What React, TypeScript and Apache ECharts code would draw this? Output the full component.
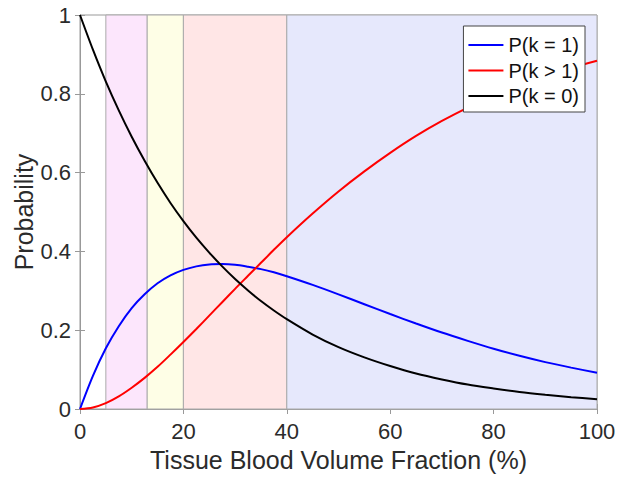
import React, { useEffect, useRef } from "react";
import * as echarts from "echarts";

const xValues = [0, 2.5, 5, 7.5, 10, 12.5, 15, 17.5, 20, 22.5, 25, 27.5, 30, 32.5, 35, 37.5, 40, 45, 50, 55, 60, 65, 70, 75, 80, 85, 90, 95, 100];
const pOne = [0, 0.084, 0.154, 0.210, 0.256, 0.291, 0.319, 0.339, 0.353, 0.362, 0.367, 0.368, 0.366, 0.361, 0.355, 0.347, 0.337, 0.315, 0.291, 0.266, 0.241, 0.217, 0.194, 0.173, 0.153, 0.135, 0.119, 0.105, 0.092];
const pMore = [0, 0.004, 0.015, 0.032, 0.054, 0.079, 0.107, 0.138, 0.170, 0.203, 0.237, 0.271, 0.305, 0.338, 0.371, 0.404, 0.436, 0.496, 0.552, 0.603, 0.650, 0.693, 0.731, 0.765, 0.795, 0.822, 0.845, 0.866, 0.884];
const pZero = [1, 0.912, 0.831, 0.758, 0.691, 0.630, 0.574, 0.523, 0.477, 0.435, 0.397, 0.362, 0.330, 0.301, 0.274, 0.250, 0.228, 0.189, 0.157, 0.131, 0.109, 0.090, 0.075, 0.062, 0.052, 0.043, 0.036, 0.030, 0.025];
const seriesNames = ["P(k = 1)", "P(k > 1)", "P(k = 0)"];
const bands = [
  { from: 5, to: 13, color: "#FCE6FC" },
  { from: 13, to: 20, color: "#FEFEE6" },
  { from: 20, to: 40, color: "#FFE6E6" },
  { from: 40, to: 100, color: "#E6E8FC" },
];

const FONT = "'Liberation Sans', Arial, Helvetica, sans-serif";

export default function App() {
  const ref = useRef<HTMLDivElement>(null);
  useEffect(() => {
    if (!ref.current) return;
    const chart = echarts.init(ref.current, undefined, { renderer: "svg" });
    const pair = (ys: number[]) => xValues.map((x, i) => [x, ys[i]]);
    const axisGray = "#999999";
    const labelColor = "#2b2b2b";
    chart.setOption({
      animation: false,
      backgroundColor: "#ffffff",
      textStyle: { fontFamily: FONT },
      grid: {
        left: 80,
        right: 21,
        top: 15,
        bottom: 70,
        containLabel: false,
        outerBoundsMode: "none",
        show: true,
        borderColor: axisGray,
        borderWidth: 1,
        backgroundColor: "transparent",
      },
      legend: {
        orient: "vertical",
        right: 33,
        top: 26,
        z: 20,
        backgroundColor: "#ffffff",
        borderColor: "#444444",
        borderWidth: 1,
        borderRadius: 0,
        padding: [9, 6, 6, 5],
        itemGap: 5.5,
        itemWidth: 35,
        itemHeight: 2,
        icon: "rect",
        data: seriesNames,
        textStyle: { fontSize: 20, color: "#111", fontFamily: FONT },
      },
      xAxis: [
        {
          type: "value",
          min: 0,
          max: 100,
          interval: 20,
          name: "Tissue Blood Volume Fraction (%)",
          nameLocation: "middle",
          nameGap: 38,
          nameMoveOverlap: false,
          nameTextStyle: { fontSize: 25, color: labelColor, fontFamily: FONT },
          axisLine: { show: true, lineStyle: { color: axisGray } },
          axisTick: { show: true, inside: true, length: 5, lineStyle: { color: axisGray } },
          axisLabel: { fontSize: 22, color: labelColor, margin: 11, fontFamily: FONT },
          splitLine: { show: false },
        },
        {
          type: "value",
          position: "top",
          min: 0,
          max: 100,
          interval: 20,
          axisLine: { show: true, lineStyle: { color: axisGray } },
          axisTick: { show: true, inside: true, length: 5, lineStyle: { color: axisGray } },
          axisLabel: { show: false },
          splitLine: { show: false },
        },
      ],
      yAxis: [
        {
          type: "value",
          min: 0,
          max: 1,
          interval: 0.2,
          name: "Probability",
          nameLocation: "middle",
          nameGap: 44,
          nameMoveOverlap: false,
          nameTextStyle: { fontSize: 25, color: labelColor, fontFamily: FONT },
          axisLine: { show: true, lineStyle: { color: axisGray } },
          axisTick: { show: true, inside: true, length: 5, lineStyle: { color: axisGray } },
          axisLabel: { fontSize: 22, color: labelColor, margin: 9, fontFamily: FONT },
          splitLine: { show: false },
        },
        {
          type: "value",
          position: "right",
          min: 0,
          max: 1,
          interval: 0.2,
          axisLine: { show: true, lineStyle: { color: axisGray } },
          axisTick: { show: true, inside: true, length: 5, lineStyle: { color: axisGray } },
          axisLabel: { show: false },
          splitLine: { show: false },
        },
      ],
      series: [
        {
          name: seriesNames[0],
          type: "line",
          data: pair(pOne),
          smooth: 0.3,
          symbol: "none",
          z: 5,
          lineStyle: { color: "#0000ff", width: 2 },
          itemStyle: { color: "#0000ff" },
          markArea: {
            silent: true,
            z: 1,
            data: bands.map((b) => [
              { xAxis: b.from, itemStyle: { color: b.color, borderColor: "#aaaaaa", borderWidth: 1 } },
              { xAxis: b.to },
            ]),
          },
        },
        {
          name: seriesNames[1],
          type: "line",
          data: pair(pMore),
          smooth: 0.3,
          symbol: "none",
          z: 5,
          lineStyle: { color: "#ff0000", width: 2 },
          itemStyle: { color: "#ff0000" },
        },
        {
          name: seriesNames[2],
          type: "line",
          data: pair(pZero),
          smooth: 0.3,
          symbol: "none",
          z: 5,
          lineStyle: { color: "#000000", width: 2 },
          itemStyle: { color: "#000000" },
        },
      ],
    });
    return () => chart.dispose();
  }, []);
  return (
    <div
      ref={ref}
      style={{ position: "fixed", left: 0, top: 0, width: 618, height: 479, background: "#fff" }}
    />
  );
}
